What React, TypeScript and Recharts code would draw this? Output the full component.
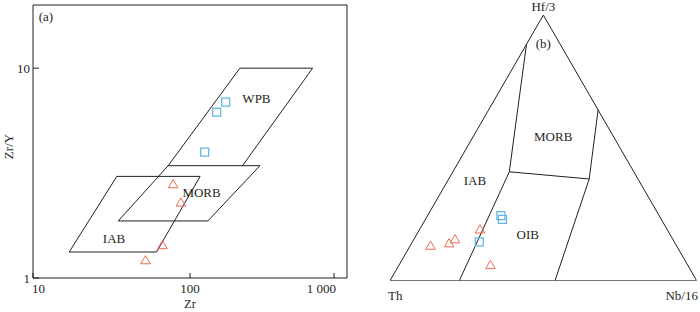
import { ReferenceArea, ReferenceDot, Scatter, ScatterChart, XAxis, YAxis } from 'recharts'

const FONT = 'Liberation Serif, Times New Roman, serif'
const INK = '#231f20'
const RED = '#ef6b57'
const BLUE = '#5ab4e5'

// (a) Zr vs Zr/Y, both log
const zrTicks = [10, 100, 1000]
const zrTickLabels: Record<number, string> = { 10: '10', 100: '100', 1000: '1 000' }
const ratioTicks = [1, 10]

const wpbEdge = [
  { zr: 72.6, ratio: 3.43 },
  { zr: 208, ratio: 10 },
  { zr: 604, ratio: 10 },
  { zr: 216, ratio: 3.43 },
]
const morbField = [
  { zr: 72.6, ratio: 3.43 },
  { zr: 279, ratio: 3.43 },
  { zr: 130, ratio: 1.87 },
  { zr: 34.9, ratio: 1.87 },
  { zr: 72.6, ratio: 3.43 },
]
const iabField = [
  { zr: 34.2, ratio: 3.05 },
  { zr: 116, ratio: 3.05 },
  { zr: 61.2, ratio: 1.33 },
  { zr: 17, ratio: 1.33 },
  { zr: 34.2, ratio: 3.05 },
]
const triA = [
  { zr: 78.1, ratio: 2.8 },
  { zr: 87.4, ratio: 2.29 },
  { zr: 66.8, ratio: 1.435 },
  { zr: 52.1, ratio: 1.216 },
]
const sqA = [
  { zr: 168.7, ratio: 6.89 },
  { zr: 147.9, ratio: 6.17 },
  { zr: 124, ratio: 3.98 },
]

// (b) Th – Hf/3 – Nb/16 ternary (fractions)
type Tern = { th: number; hf: number; nb: number }
const ternFrame: Tern[] = [
  { th: 1, hf: 0, nb: 0 },
  { th: 0, hf: 1, nb: 0 },
  { th: 0, hf: 0, nb: 1 },
  { th: 1, hf: 0, nb: 0 },
]
const ternBounds: Tern[][] = [
  [
    { th: 0.11, hf: 0.89, nb: 0 },
    { th: 0.406, hf: 0.41, nb: 0.184 },
    { th: 0.774, hf: 0, nb: 0.226 },
  ],
  [
    { th: 0.406, hf: 0.41, nb: 0.184 },
    { th: 0.159, hf: 0.383, nb: 0.458 },
  ],
  [
    { th: 0, hf: 0.643, nb: 0.357 },
    { th: 0.159, hf: 0.383, nb: 0.458 },
    { th: 0.462, hf: 0, nb: 0.538 },
  ],
]
const triB: Tern[] = [
  { th: 0.802, hf: 0.132, nb: 0.066 },
  { th: 0.737, hf: 0.141, nb: 0.122 },
  { th: 0.71, hf: 0.156, nb: 0.134 },
  { th: 0.61, hf: 0.193, nb: 0.197 },
  { th: 0.643, hf: 0.059, nb: 0.298 },
]
const sqB: Tern[] = [
  { th: 0.517, hf: 0.245, nb: 0.239 },
  { th: 0.518, hf: 0.231, nb: 0.251 },
  { th: 0.636, hf: 0.146, nb: 0.218 },
]

const H = Math.sqrt(3) / 2
const toXY = (p: Tern) => ({ x: p.nb + p.hf / 2, y: p.hf * H })

const Tri = (p: any) => (
  <polygon
    points={`${p.cx},${p.cy - 4.6} ${p.cx + 4.8},${p.cy + 3.6} ${p.cx - 4.8},${p.cy + 3.6}`}
    fill="none"
    stroke={RED}
    strokeWidth={1}
  />
)
const Sq = (p: any) => <rect x={p.cx - 4} y={p.cy - 4} width={8} height={8} fill="none" stroke={BLUE} strokeWidth={1.2} />
const NoDot = () => <g />

const edge = { stroke: INK, strokeWidth: 1 }
const txt = { fill: INK, fontSize: 13, fontFamily: FONT }

function tag(x: number, y: number, text: string) {
  return (
    <ReferenceDot
      key={text + x}
      x={x}
      y={y}
      r={0}
      stroke="none"
      ifOverflow="visible"
      label={{ value: text, position: 'center', ...txt }}
    />
  )
}

const XTick = ({ x, y, payload }: any) => {
  const v = payload.value
  const anchor = v === 10 ? 'start' : v === 1000 ? 'end' : 'middle'
  const tx = v === 10 ? x - 1 : v === 1000 ? x + 2 : x
  return (
    <g>
      <line x1={x} x2={x} y1={y} y2={y - 5} stroke={INK} />
      <text x={tx} y={y + 15} textAnchor={anchor} {...txt}>
        {zrTickLabels[v]}
      </text>
    </g>
  )
}

const YTick = ({ x, y, payload }: any) => (
  <g>
    <line x1={x} x2={x + 6} y1={y} y2={y} stroke={INK} />
    <text x={x - 3} y={y} dy="0.35em" textAnchor="end" {...txt}>
      {payload.value}
    </text>
  </g>
)

function PanelA() {
  return (
    <ScatterChart width={350} height={312} margin={{ top: 5, right: 3, bottom: 0, left: 0 }}>
      <XAxis
        dataKey="zr"
        type="number"
        scale="log"
        domain={[10, 1000]}
        ticks={zrTicks}
        allowDataOverflow
        axisLine={false}
        tickLine={false}
        tickSize={0}
        tickMargin={0}
        height={34}
        tick={XTick}
        label={{
          content: ({ viewBox }: any) => (
            <text x={viewBox.x + viewBox.width / 2} y={viewBox.y + 30} textAnchor="middle" {...txt} fontSize={12.5}>
              Zr
            </text>
          ),
        }}
      />
      <YAxis
        dataKey="ratio"
        type="number"
        scale="log"
        domain={[1, 20]}
        ticks={ratioTicks}
        allowDataOverflow
        axisLine={false}
        tickLine={false}
        tickSize={0}
        tickMargin={0}
        width={33}
        tick={YTick}
        label={{
          content: ({ viewBox }: any) => {
            const cy = viewBox.y + viewBox.height / 2 + 5
            return (
              <text x={8} y={cy} textAnchor="middle" dy="0.35em" transform={`rotate(-90 8 ${cy})`} {...txt}>
                Zr/Y
              </text>
            )
          },
        }}
      />
      <ReferenceArea x1={10} x2={1000} y1={1} y2={20} fill="none" stroke={INK} strokeWidth={1} />
      <Scatter data={wpbEdge} line={edge} lineType="joint" shape={NoDot} isAnimationActive={false} />
      <Scatter data={morbField} line={edge} lineType="joint" shape={NoDot} isAnimationActive={false} />
      <Scatter data={iabField} line={edge} lineType="joint" shape={NoDot} isAnimationActive={false} />
      <Scatter data={triA} shape={Tri} isAnimationActive={false} />
      <Scatter data={sqA} shape={Sq} isAnimationActive={false} />
      {tag(265, 7.16, 'WPB')}
      {tag(118.5, 2.57, 'MORB')}
      {tag(32.8, 1.545, 'IAB')}
      {tag(12.1, 17.6, '(a)')}
    </ScatterChart>
  )
}

function PanelB() {
  return (
    <ScatterChart width={350} height={312} margin={{ top: 15.1, right: 3.3, bottom: 31.3, left: 40 }}>
      <XAxis dataKey="x" type="number" domain={[0, 1]} allowDataOverflow hide />
      <YAxis dataKey="y" type="number" domain={[0, H]} allowDataOverflow hide />
      <Scatter data={ternFrame.map(toXY)} line={edge} lineType="joint" shape={NoDot} isAnimationActive={false} />
      {ternBounds.map((b, i) => (
        <Scatter key={i} data={b.map(toXY)} line={edge} lineType="joint" shape={NoDot} isAnimationActive={false} />
      ))}
      <Scatter data={triB.map(toXY)} shape={Tri} isAnimationActive={false} />
      <Scatter data={sqB.map(toXY)} shape={Sq} isAnimationActive={false} />
      {tag(0.5, 0.896, 'Hf/3')}
      {tag(0.5, 0.774, '(b)')}
      {tag(0.532, 0.47, 'MORB')}
      {tag(0.277, 0.328, 'IAB')}
      {tag(0.449, 0.151, 'OIB')}
      {tag(0.017, -0.047, 'Th')}
      {tag(0.951, -0.047, 'Nb/16')}
    </ScatterChart>
  )
}

export default function App() {
  return (
    <div
      style={{
        position: 'absolute',
        left: 0,
        top: 0,
        width: 700,
        height: 312,
        background: '#fff',
        fontFamily: FONT,
      }}
    >
      <div style={{ position: 'absolute', left: 0, top: 0 }}>
        <PanelA />
      </div>
      <div style={{ position: 'absolute', left: 350, top: 0 }}>
        <PanelB />
      </div>
    </div>
  )
}
